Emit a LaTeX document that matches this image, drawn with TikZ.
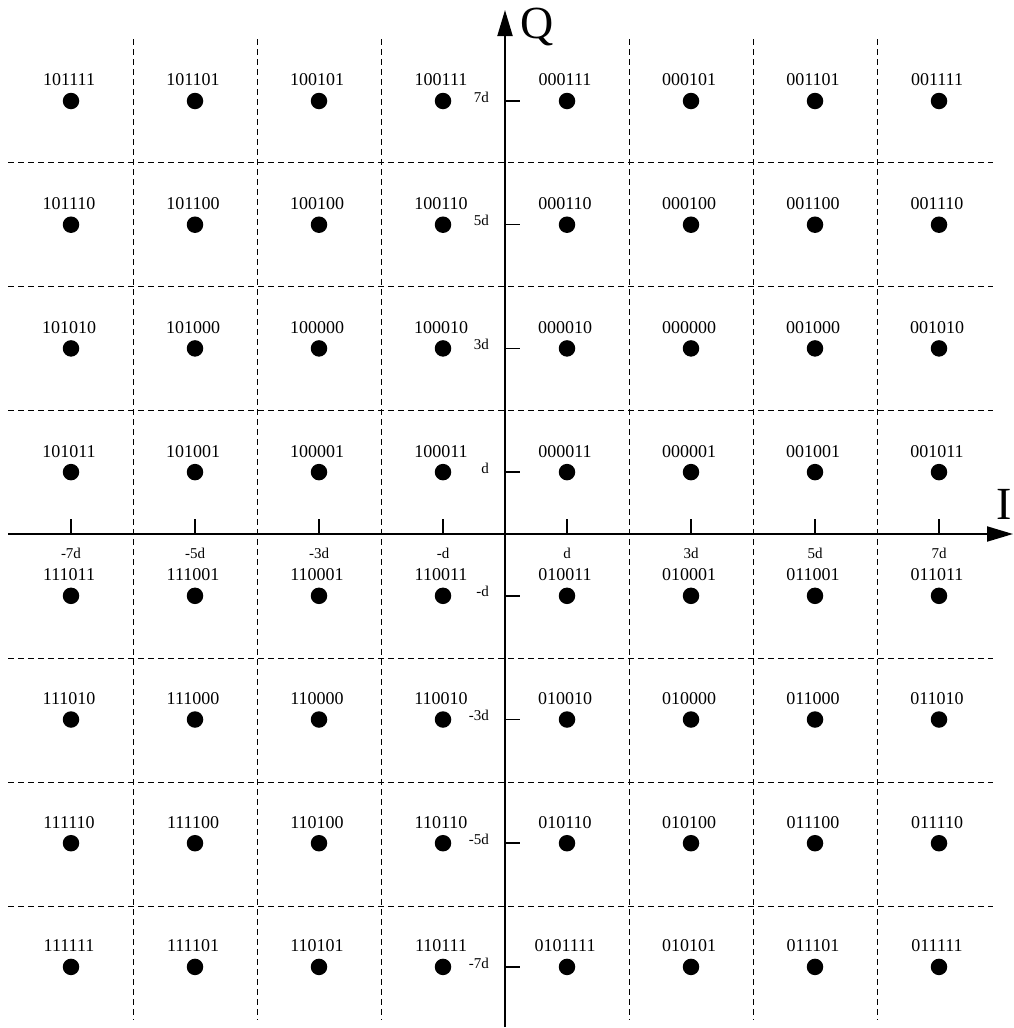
\documentclass[tikz,border=0pt]{standalone}
\usepackage{fontspec}
\setmainfont{Liberation Serif}
\usetikzlibrary{arrows.meta}
\newcommand\qamrow[2]{%
  \foreach \t [count=\c from 0] in {#2}{%
    \node[dot] (p\c-#1) at ({71+124*\c},{101+123.7*#1}) {};
    \node[bits] (b\c-#1) at ({69+124*\c},{80+123.7*#1}) {\t};
  }}
\begin{document}
\begin{tikzpicture}[x=1pt,y=-1pt,
  dot/.style={circle,fill=black,inner sep=0pt,minimum size=16.5pt},
  bits/.style={font=\fontsize{18}{20}\selectfont,inner sep=0pt},
  ticklab/.style={font=\fontsize{15}{17}\selectfont,inner sep=0pt},
  axlab/.style={font=\fontsize{46}{46}\selectfont,inner sep=0pt},
  gridline/.style={dash pattern=on 6pt off 4pt, line width=0.9pt},
  axisline/.style={line width=2pt,-{Triangle[length=26pt,width=15pt]}},
  tickline/.style={line width=1.5pt}]
\useasboundingbox (0,0) rectangle (1013,1028);
% dashed grid
\foreach \k in {-3,-2,-1,1,2,3}{
  \draw[gridline] ({505+124*\k},39) -- ({505+124*\k},1020);
  \draw[gridline] (8,{534+124*\k}) -- (993,{534+124*\k});
}
% axes
\coordinate (Ibeg) at (8,534);
\coordinate (Iend) at (1013,534);
\coordinate (Qbeg) at (505,1027);
\coordinate (Qend) at (505,10);
\draw[axisline] (Ibeg) -- (Iend);
\draw[axisline] (Qbeg) -- (Qend);
\node[axlab] (Qlab) at (537,27) {Q};
\node[axlab] (Ilab) at (1004,504) {I};
% ticks on I axis
\foreach \t [count=\c from 0] in {-7d,-5d,-3d,-d,d,3d,5d,7d}{
  \coordinate (ti\c) at ({71+124*\c},534);
  \draw[tickline] (ti\c) -- ++(0,-15);
  \node[ticklab] (til\c) at ({71+124*\c},553) {\t};
}
% ticks on Q axis
\foreach \t [count=\r from 0] in {7d,5d,3d,d,-d,-3d,-5d,-7d}{
  \coordinate (tq\r) at (505,{101+123.7*\r});
  \draw[tickline] (tq\r) -- ++(15,0);
  \node[ticklab,anchor=east] (tql\r) at (489,{97+123.7*\r}) {\t};
}
% constellation points
\qamrow{0}{101111,101101,100101,100111,000111,000101,001101,001111}
\qamrow{1}{101110,101100,100100,100110,000110,000100,001100,001110}
\qamrow{2}{101010,101000,100000,100010,000010,000000,001000,001010}
\qamrow{3}{101011,101001,100001,100011,000011,000001,001001,001011}
\qamrow{4}{111011,111001,110001,110011,010011,010001,011001,011011}
\qamrow{5}{111010,111000,110000,110010,010010,010000,011000,011010}
\qamrow{6}{111110,111100,110100,110110,010110,010100,011100,011110}
\qamrow{7}{111111,111101,110101,110111,0101111,010101,011101,011111}
\end{tikzpicture}
\end{document}
